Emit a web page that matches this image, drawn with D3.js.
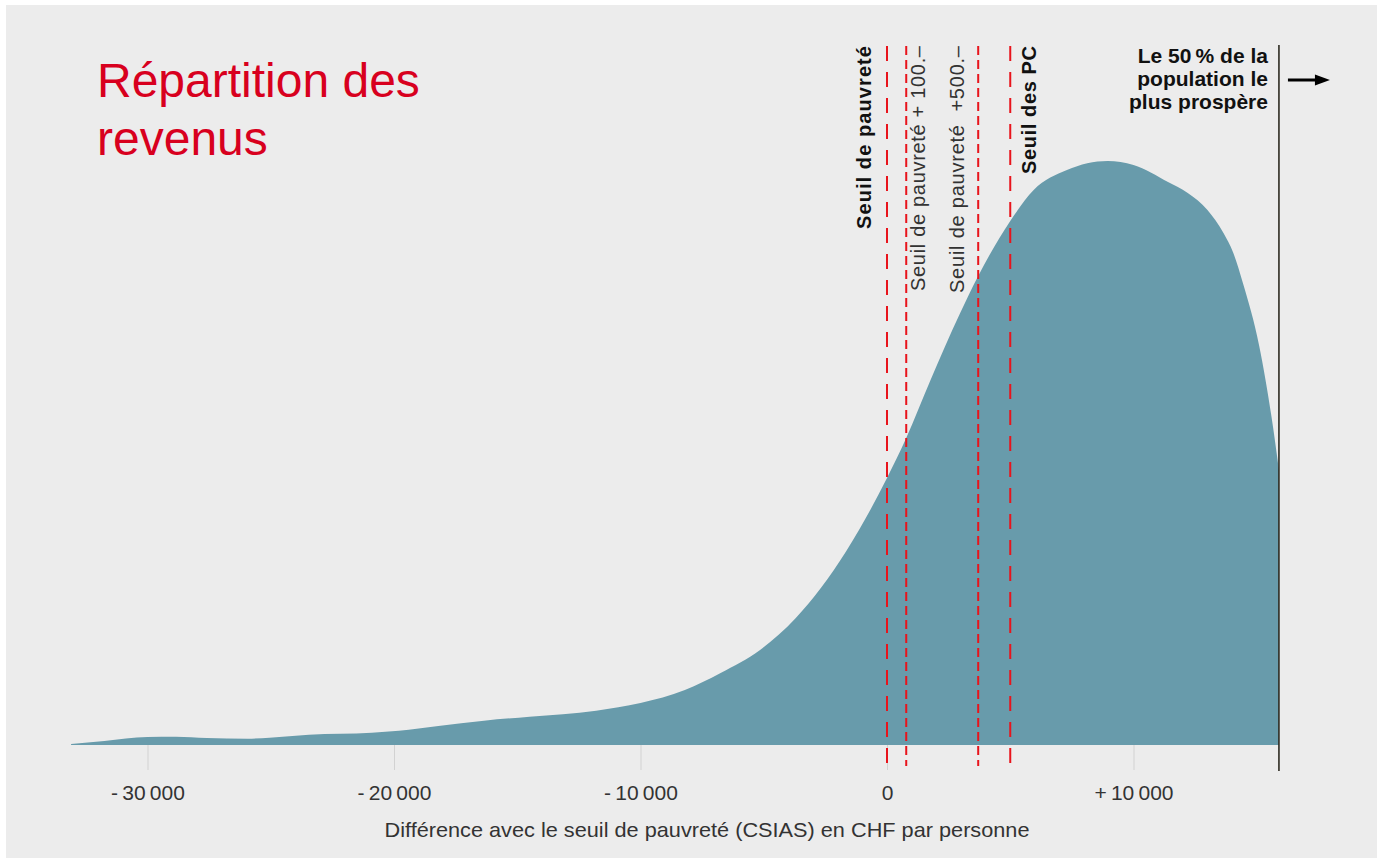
<!DOCTYPE html>
<html>
<head>
<meta charset="utf-8">
<script src="https://cdn.jsdelivr.net/npm/d3@7"></script>
<style>
  body { margin: 0; background: #fff; }
  svg { display: block; font-family: "Liberation Sans", Arial, sans-serif; }
</style>
</head>
<body>
<div id="chart"></div>
<script>
// income gap to the CSIAS poverty line (CHF / person) and relative density
const incomes = [-33100, -31750, -30000, -28850, -27600, -25950, -25050, -23450, -20900, -19800,
  -18200, -16350, -14500, -11800, -10000, -8200, -6750, -5150, -3700, -1650,
  0, 780, 1750, 2950, 3700, 5000, 5950, 7300, 8950, 10000,
  11400, 12200, 13000, 13650, 14050, 14450, 15100, 15600, 15900];
const densities = [1, 4, 8, 8.3, 7, 6.3, 7.3, 10.3, 12.3, 14.3,
  19, 24.3, 28.3, 34.3, 42, 55, 72, 95, 127, 194,
  267, 307, 364, 431, 469, 524, 555, 575, 584, 580,
  563, 552, 535, 512, 492, 461, 399, 328, 275];

const tickValues = [-30000, -20000, -10000, 0, 10000];
const tickLabels = ["-\u200930\u2009000", "-\u200920\u2009000", "-\u200910\u2009000", "0", "+\u200910\u2009000"];

const thresholdValues = [0, 780, 3700, 5000];
const thresholdLabels = ["Seuil de pauvreté", "Seuil de pauvreté + 100.–", "Seuil de pauvreté  +500.–", "Seuil des PC"];
const thresholdBold = [true, false, false, true];

const medianValue = 15900;
const medianLabel = ["Le 50\u2009% de la", "population le", "plus prospère"];
const titleLines = ["Répartition des", "revenus"];
const axisTitle = "Différence avec le seuil de pauvreté (CSIAS) en CHF par personne";

const W = 1377, H = 858;
const baseY = 745;

const svg = d3.select("#chart").append("svg")
  .attr("width", W)
  .attr("height", H);

svg.append("rect")
  .attr("x", 6).attr("y", 5)
  .attr("width", W - 6).attr("height", H - 5)
  .attr("fill", "#ececec");

let x = d3.scaleLinear().domain([-30000, 10000]).range([147.5, 1133.5]);
let y = d3.scaleLinear().domain([0, 600]).range([baseY, 145]);

const data = incomes.map((v, i) => ({income: v, density: densities[i]}));

// x axis
const xAxis = d3.axisBottom(x)
  .tickValues(tickValues)
  .tickFormat((d, i) => tickLabels[i])
  .tickSize(25)
  .tickPadding(15);

const gx = svg.append("g")
  .attr("transform", "translate(0," + baseY + ")")
  .call(xAxis);
gx.select(".domain").remove();
gx.selectAll(".tick line").attr("stroke", "#d2d2d2").attr("stroke-width", 1);
gx.selectAll(".tick text")
  .attr("fill", "#333")
  .style("font-size", "21px")
  .style("font-family", "'Liberation Sans', Arial, sans-serif");

// distribution
const area = d3.area()
  .x(d => x(d.income))
  .y0(y(0))
  .y1(d => y(d.density))
  .curve(d3.curveMonotoneX);

svg.append("path")
  .datum(data)
  .attr("d", area)
  .attr("fill", "#689bab");

// threshold lines
thresholdValues.forEach((v, i) => {
  svg.append("line")
    .attr("x1", x(v)).attr("x2", x(v))
    .attr("y1", 46).attr("y2", thresholdBold[i] ? 771 : 766)
    .attr("stroke", "#e8141c")
    .attr("stroke-width", 2)
    .attr("stroke-dasharray", thresholdBold[i] ? "15 11" : "9 5");
});

const labelOffsets = [-16, 19, -14, 26];
const labelLengths = [183, 245, 247, 128];
thresholdValues.forEach((v, i) => {
  svg.append("text")
    .attr("transform", "translate(" + (x(v) + labelOffsets[i]) + ",46) rotate(-90)")
    .attr("text-anchor", "end")
    .attr("textLength", labelLengths[i])
    .attr("lengthAdjust", "spacing")
    .style("font-size", "20px")
    .style("font-weight", thresholdBold[i] ? "bold" : "normal")
    .style("white-space", "pre")
    .attr("fill", thresholdBold[i] ? "#111" : "#333")
    .text(thresholdLabels[i]);
});

// median line + label
svg.append("line")
  .attr("x1", x(medianValue)).attr("x2", x(medianValue))
  .attr("y1", 45).attr("y2", 771)
  .attr("stroke", "#2e2b22")
  .attr("stroke-width", 1.6);

svg.append("g")
  .selectAll("text")
  .data(medianLabel)
  .enter()
  .append("text")
  .attr("x", x(medianValue) - 11)
  .attr("y", (d, i) => 62.5 + i * 23)
  .attr("text-anchor", "end")
  .style("font-size", "21px")
  .style("font-weight", "bold")
  .attr("fill", "#111")
  .text(d => d);

const ax = x(medianValue);
svg.append("line")
  .attr("x1", ax + 9).attr("x2", ax + 40)
  .attr("y1", 80).attr("y2", 80)
  .attr("stroke", "#000")
  .attr("stroke-width", 3);
svg.append("path")
  .attr("d", `M${ax + 36},74.5 L${ax + 51},80 L${ax + 36},85.5 Z`)
  .attr("fill", "#000");

// title
svg.append("g")
  .selectAll("text")
  .data(titleLines)
  .enter()
  .append("text")
  .attr("x", 97)
  .attr("y", (d, i) => 97 + i * 57.5)
  .style("font-size", "48px")
  .attr("fill", "#d8001e")
  .text(d => d);

// axis title
svg.append("text")
  .attr("x", 707)
  .attr("y", 837)
  .attr("text-anchor", "middle")
  .attr("textLength", 645)
  .attr("lengthAdjust", "spacingAndGlyphs")
  .style("font-size", "21px")
  .attr("fill", "#333")
  .text(axisTitle);
</script>
</body>
</html>
